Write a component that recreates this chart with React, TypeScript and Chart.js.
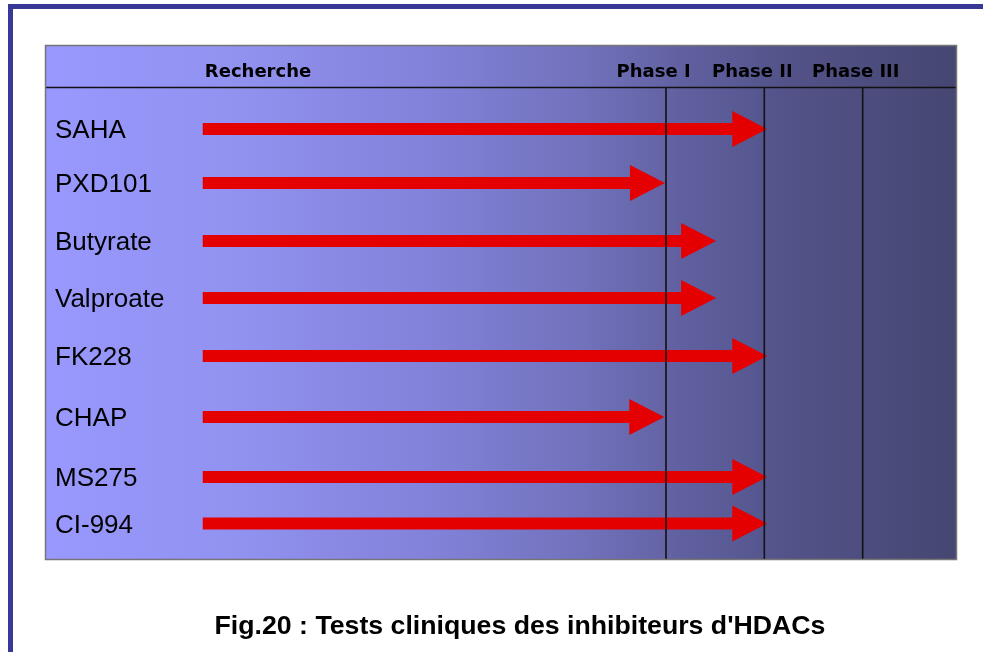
import React, { useEffect, useRef } from 'react';
import { Chart, registerables } from 'chart.js';

Chart.register(...registerables);

// ---- data ----
const drugs = ['SAHA', 'PXD101', 'Butyrate', 'Valproate', 'FK228', 'CHAP', 'MS275', 'CI-994'];
// vertical position of each row (row units, 0 = first row)
const rowPositions = [0, 0.958, 1.987, 2.999, 4.028, 5.11, 6.175, 7.0];
// arrow start / tip on the phase axis (0 = start of Phase I, 1 = Phase II, 2 = Phase III)
const arrowStart = [-4.71, -4.71, -4.71, -4.71, -4.71, -4.71, -4.71, -4.71];
const arrowEnd = [1.03, -0.01, 0.51, 0.51, 1.03, -0.017, 1.03, 1.03];
const phaseLabels = ['Recherche', 'Phase I', 'Phase II', 'Phase III'];
const phaseLabelPos = [-4.148, -0.126, 0.878, 1.93];
const phaseBoundaries = [0, 1, 2];
const caption = "Fig.20 : Tests cliniques des inhibiteurs d'HDACs";

// axis extents
const xMin = -6.314;
const xMax = 2.959;
const yMin = -1.49;
const yMax = 7.648;
const headerLineY = -0.745;
const headerTextY = -1.029;

const ARROW_RED = '#e40000';

const phasePlugin = {
  id: 'phasePlugin',
  beforeDatasetsDraw(chart: any) {
    const { ctx, chartArea } = chart;
    const { left, right, top, bottom } = chartArea;
    const g = ctx.createLinearGradient(left, 0, right, 0);
    g.addColorStop(0, 'rgb(152,152,254)');
    g.addColorStop(0.2, 'rgb(146,146,241)');
    g.addColorStop(0.42, 'rgb(130,130,218)');
    g.addColorStop(0.6, 'rgb(112,112,186)');
    g.addColorStop(0.7, 'rgb(96,96,160)');
    g.addColorStop(0.82, 'rgb(82,82,136)');
    g.addColorStop(1, 'rgb(70,70,114)');
    ctx.save();
    ctx.fillStyle = g;
    ctx.fillRect(left, top, right - left, bottom - top);
    ctx.restore();
  },
  afterDatasetsDraw(chart: any) {
    const { ctx, chartArea, scales } = chart;
    const { left, right, top, bottom } = chartArea;
    const xs = scales.x;
    const ys = scales.y;

    // arrows from bar elements (always pointing right)
    const meta = chart.getDatasetMeta(0);
    ctx.save();
    ctx.fillStyle = ARROW_RED;
    meta.data.forEach((el: any) => {
      const { x, y, base } = el.getProps(['x', 'y', 'base'], true);
      const x0 = Math.min(x, base);
      const tip = Math.max(x, base);
      const headLen = 35;
      const headHalf = 18;
      const shaftHalf = 6;
      const hb = tip - headLen;
      ctx.beginPath();
      ctx.moveTo(x0, y - shaftHalf);
      ctx.lineTo(hb, y - shaftHalf);
      ctx.lineTo(hb, y - headHalf);
      ctx.lineTo(tip, y);
      ctx.lineTo(hb, y + headHalf);
      ctx.lineTo(hb, y + shaftHalf);
      ctx.lineTo(x0, y + shaftHalf);
      ctx.closePath();
      ctx.fill();
    });
    ctx.restore();

    // header line and phase separators
    const hy = Math.round(ys.getPixelForValue(headerLineY)) + 0.5;
    ctx.save();
    ctx.strokeStyle = '#111';
    ctx.lineWidth = 1.6;
    ctx.beginPath();
    ctx.moveTo(left, hy);
    ctx.lineTo(right, hy);
    phaseBoundaries.forEach((b) => {
      const px = xs.getPixelForValue(b);
      ctx.moveTo(px, hy);
      ctx.lineTo(px, bottom);
    });
    ctx.stroke();

    // outer border
    ctx.strokeStyle = 'rgb(118,118,118)';
    ctx.lineWidth = 1.5;
    ctx.strokeRect(left + 0.5, top + 0.5, right - left - 1, bottom - top - 1);

    // header labels
    ctx.fillStyle = '#000';
    ctx.font = 'bold 18px "DejaVu Sans"';
    ctx.textAlign = 'center';
    ctx.textBaseline = 'alphabetic';
    const ty = ys.getPixelForValue(headerTextY) + 6.5;
    phaseLabels.forEach((t, i) => {
      ctx.fillText(t, xs.getPixelForValue(phaseLabelPos[i]), ty);
    });

    // drug labels
    ctx.font = '26px "Liberation Sans", Arial, sans-serif';
    ctx.textAlign = 'left';
    drugs.forEach((d, i) => {
      ctx.fillText(d, left + 10, ys.getPixelForValue(rowPositions[i]) + 9.5);
    });

    // caption
    ctx.font = 'bold 26.7px "Liberation Sans", Arial, sans-serif';
    ctx.textAlign = 'center';
    ctx.fillText(caption, (left + right) / 2 + 19, bottom + 74);
    ctx.restore();
  },
};

export default function App() {
  const ref = useRef<HTMLCanvasElement | null>(null);

  useEffect(() => {
    if (!ref.current) return;
    const chart = new Chart(ref.current, {
      type: 'bar',
      data: {
        datasets: [
          {
            data: drugs.map((_, i) => ({ x: [arrowStart[i], arrowEnd[i]], y: rowPositions[i] })) as any,
            backgroundColor: 'rgba(0,0,0,0)',
            borderWidth: 0,
            barThickness: 12,
          },
        ],
      },
      options: {
        indexAxis: 'y',
        responsive: false,
        animation: false,
        devicePixelRatio: 1,
        layout: { padding: { left: 45, top: 45, right: 26, bottom: 92 } },
        scales: {
          x: { type: 'linear', min: xMin, max: xMax, offset: false, display: false },
          y: { type: 'linear', min: yMin, max: yMax, reverse: true, offset: false, display: false },
        },
        plugins: {
          legend: { display: false },
          tooltip: { enabled: false },
          title: { display: false },
        },
      },
      plugins: [phasePlugin],
    });
    return () => chart.destroy();
  }, []);

  return (
    <div style={{ position: 'absolute', left: 0, top: 0, width: 983, height: 652, background: '#fff', overflow: 'hidden' }}>
      <div
        style={{
          position: 'absolute',
          left: 8,
          top: 4,
          right: 0,
          bottom: 0,
          borderLeft: '5px solid rgb(56,56,152)',
          borderTop: '5px solid rgb(56,56,152)',
        }}
      />
      <canvas ref={ref} width={983} height={652} style={{ position: 'absolute', left: 0, top: 0 }} />
    </div>
  );
}
